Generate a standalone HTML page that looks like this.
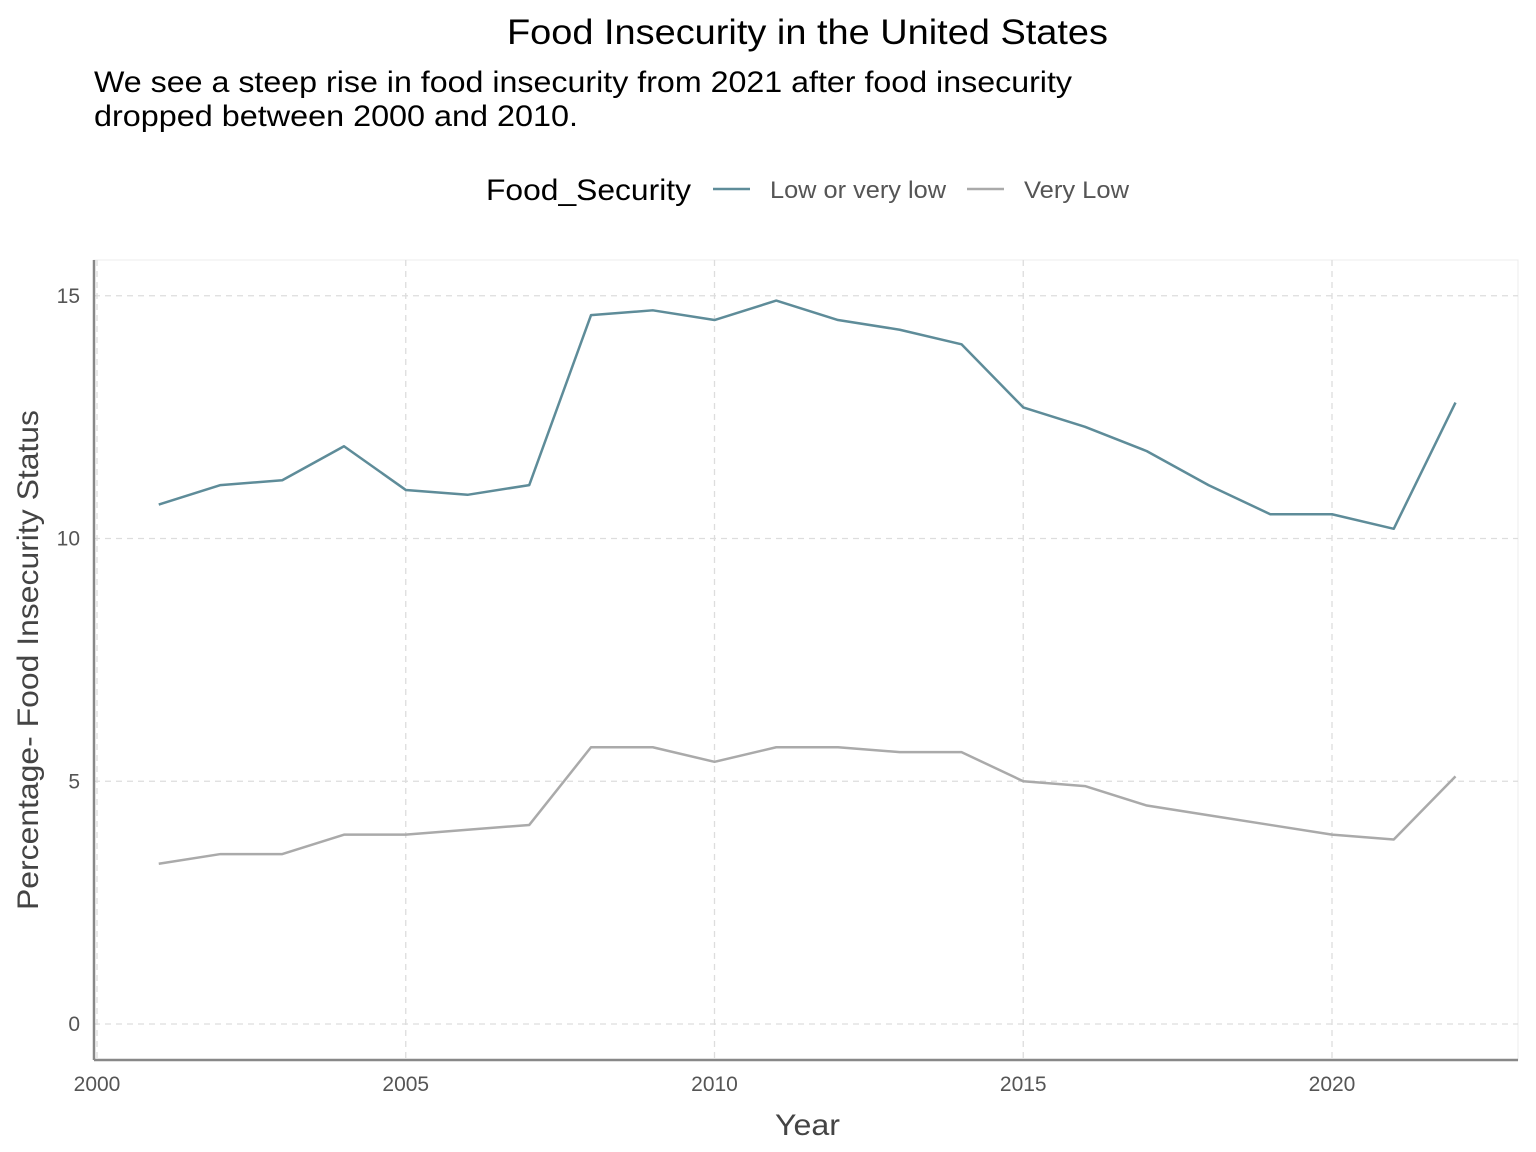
<!DOCTYPE html>
<html><head><meta charset="utf-8"><style>
html,body{margin:0;padding:0;background:#fff;}
svg{display:block;font-family:"Liberation Sans",Arial,sans-serif;}
</style></head><body>
<svg id="chart" width="1536" height="1152" viewBox="0 0 1536 1152">
<text x="507" y="44" font-size="35" textLength="601" lengthAdjust="spacingAndGlyphs" fill="#000">Food Insecurity in the United States</text>
<text x="94" y="92" font-size="30" textLength="978" lengthAdjust="spacingAndGlyphs" fill="#000">We see a steep rise in food insecurity from 2021 after food insecurity</text>
<text x="94" y="126" font-size="30" textLength="484" lengthAdjust="spacingAndGlyphs" fill="#000">dropped between 2000 and 2010.</text>
<g>
<text x="486" y="200" font-size="30" textLength="205" lengthAdjust="spacingAndGlyphs" fill="#000">Food_Security</text>
<line x1="713" y1="189" x2="750" y2="189" stroke="#5e8c99" stroke-width="2.5"/>
<text x="770" y="198" font-size="24" textLength="176" lengthAdjust="spacingAndGlyphs" fill="#555">Low or very low</text>
<line x1="967" y1="189" x2="1004" y2="189" stroke="#aaaaaa" stroke-width="2.5"/>
<text x="1024" y="198" font-size="24" textLength="105" lengthAdjust="spacingAndGlyphs" fill="#555">Very Low</text>
</g>
<rect x="94" y="260" width="1424" height="800" fill="none" stroke="#ececec" stroke-width="1"/>
<g id="grid"></g>
<g id="series"></g>
<line x1="94" y1="260" x2="94" y2="1060" stroke="#888" stroke-width="2.5"/>
<line x1="94" y1="1060" x2="1518" y2="1060" stroke="#888" stroke-width="2.5"/>
<g id="ticks"></g>
<text x="775" y="1135" font-size="30" textLength="65" lengthAdjust="spacingAndGlyphs" fill="#444">Year</text>
<text transform="translate(38,910) rotate(-90)" font-size="30" textLength="500" lengthAdjust="spacingAndGlyphs" fill="#444">Percentage- Food Insecurity Status</text>
</svg>
<script>
const years = [2001,2002,2003,2004,2005,2006,2007,2008,2009,2010,2011,2012,2013,2014,2015,2016,2017,2018,2019,2020,2021,2022];
const lowOrVeryLow = [10.7,11.1,11.2,11.9,11.0,10.9,11.1,14.6,14.7,14.5,14.9,14.5,14.3,14.0,12.7,12.3,11.8,11.1,10.5,10.5,10.2,12.8];
const veryLow = [3.3,3.5,3.5,3.9,3.9,4.0,4.1,5.7,5.7,5.4,5.7,5.7,5.6,5.6,5.0,4.9,4.5,4.3,4.1,3.9,3.8,5.1];
const xTicks = [2000,2005,2010,2015,2020];
const yTicks = [0,5,10,15];
const NS = "http://www.w3.org/2000/svg";
function xs(v){ return 97 + (v - 2000) * 61.75; }
function ys(v){ return 1024 - v * 48.55; }
const grid = document.getElementById('grid');
const ticks = document.getElementById('ticks');
xTicks.forEach(t => {
  const l = document.createElementNS(NS,'line');
  
  
  l.setAttribute('x1', xs(t)); l.setAttribute('x2', xs(t));
  l.setAttribute('y1', 260); l.setAttribute('y2', 1060);
  l.setAttribute('stroke', '#dddddd'); l.setAttribute('stroke-dasharray', '6,5'); l.setAttribute('stroke-width', '1.3');
  grid.appendChild(l);
  const tx = document.createElementNS(NS,'text');
  
  
  tx.setAttribute('x', xs(t)); tx.setAttribute('y', 1091);
  tx.setAttribute('font-size', '21'); tx.setAttribute('fill', '#555'); tx.setAttribute('text-anchor', 'middle');
  tx.textContent = t;
  ticks.appendChild(tx);
});
yTicks.forEach(t => {
  const l = document.createElementNS(NS,'line');
  
  
  l.setAttribute('x1', 94); l.setAttribute('x2', 1518);
  l.setAttribute('y1', ys(t)); l.setAttribute('y2', ys(t));
  l.setAttribute('stroke', '#dddddd'); l.setAttribute('stroke-dasharray', '6,5'); l.setAttribute('stroke-width', '1.3');
  grid.appendChild(l);
  const tx = document.createElementNS(NS,'text');
  
  
  tx.setAttribute('x', 80); tx.setAttribute('y', ys(t) + 7);
  tx.setAttribute('font-size', '21'); tx.setAttribute('fill', '#555'); tx.setAttribute('text-anchor', 'end');
  tx.textContent = t;
  ticks.appendChild(tx);
});
function drawLine(vals, color, name){
  const p = document.createElementNS(NS,'polyline');
  
  
  p.setAttribute('points', years.map((y,i) => xs(y) + ',' + ys(vals[i])).join(' '));
  p.setAttribute('fill', 'none'); p.setAttribute('stroke', color); p.setAttribute('stroke-width', '2.5');
  p.setAttribute('stroke-linejoin', 'round');
  document.getElementById('series').appendChild(p);
}
drawLine(lowOrVeryLow, '#5e8c99', 'line-low-or-very-low');
drawLine(veryLow, '#aaaaaa', 'line-very-low');
</script>
</body></html>
